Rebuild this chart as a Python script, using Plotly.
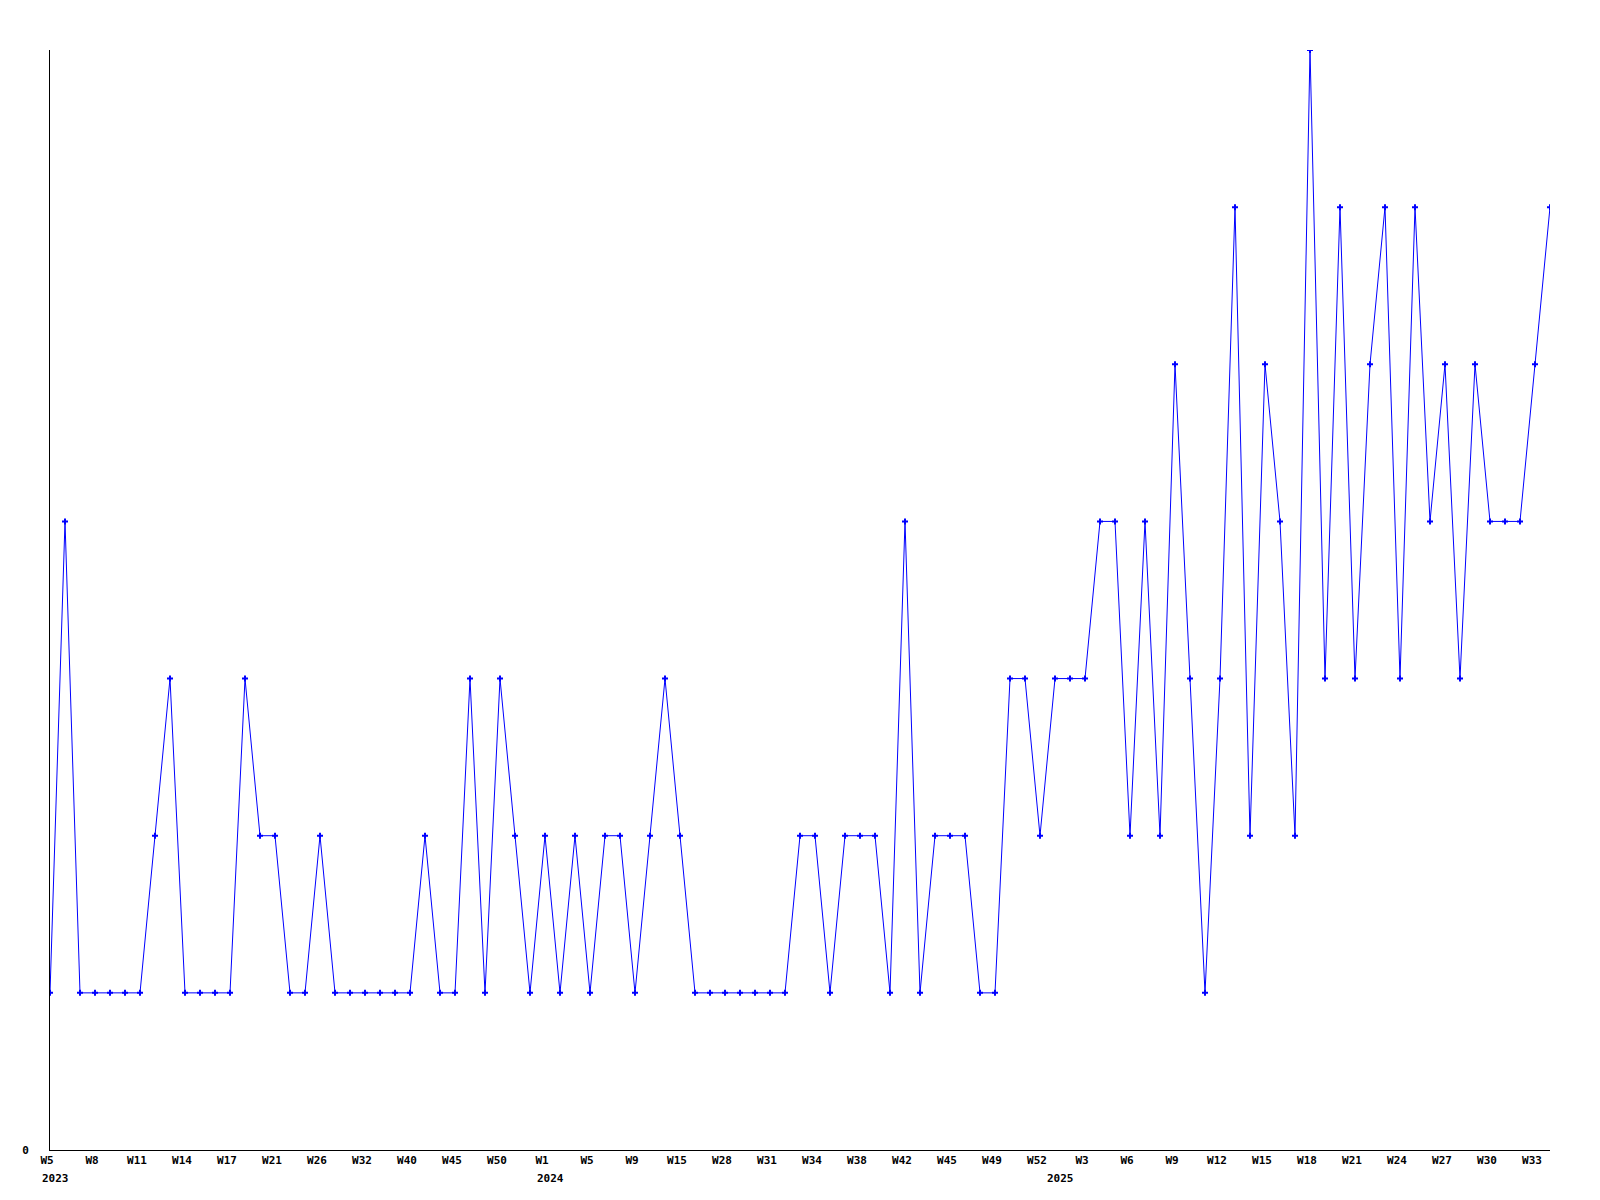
import plotly.graph_objects as go

weeks = [5, 6, 7, 8, 9, 10, 11, 12, 13, 14, 15, 16, 17, 18, 19, 21, 22, 24, 26, 28, 30, 32, 35, 38,
         40, 42, 44, 45, 47, 48, 50, 51, 52,
         1, 2, 3, 5, 6, 8, 9, 11, 13, 15, 17, 26, 28, 29, 30, 31, 32, 33, 34, 36, 37, 38, 40, 41,
         42, 43, 44, 45, 46, 47, 49, 50, 51, 52, 1, 2,
         3, 4, 5, 6, 7, 8, 9, 10, 11, 12, 13, 14, 15, 16, 17, 18, 19, 20, 21, 22, 23, 24, 25, 26,
         27, 28, 29, 30, 31, 32, 33, 34]
years = [2023]*33 + [2024]*34 + [2025]*34

values = [1, 4, 1, 1, 1, 1, 1, 2, 3, 1, 1, 1, 1, 3, 2, 2, 1, 1, 2, 1,
          1, 1, 1, 1, 1, 2, 1, 1, 3, 1, 3, 2, 1, 2, 1, 2, 1, 2, 2, 1,
          2, 3, 2, 1, 1, 1, 1, 1, 1, 1, 2, 2, 1, 2, 2, 2, 1, 4, 1, 2,
          2, 2, 1, 1, 3, 3, 2, 3, 3, 3, 4, 4, 2, 4, 2, 5, 3, 1, 3, 6,
          2, 5, 4, 2, 7, 3, 6, 3, 5, 6, 3, 6, 4, 5, 3, 5, 4, 4, 4, 5,
          6]

categories = [f"{y}-W{w:02d}" for y, w in zip(years, weeks)]

tick_idx = list(range(0, len(categories), 3))
tickvals = [categories[i] for i in tick_idx]
ticktext = [f"W{weeks[i]}" for i in tick_idx]
# year label placed at the first data point of each year
year_start_idx = [0] + [i for i in range(1, len(years)) if years[i] != years[i-1]]

fig = go.Figure()
fig.add_trace(go.Scatter(
    x=categories, y=values, mode="lines+markers",
    line=dict(color="#0000ff", width=1),
    marker=dict(symbol="cross", size=5, color="#0000ff"),
    showlegend=False, cliponaxis=True,
))

for i in year_start_idx:
    fig.add_annotation(
        x=categories[i], y=0, xref="x", yref="paper",
        text=str(years[i]), showarrow=False,
        xanchor="left", yanchor="top", xshift=-10, yshift=-20,
        font=dict(family="DejaVu Sans Mono", size=11, color="black", weight="bold"),
    )

fig.update_layout(
    width=1600, height=1200,
    margin=dict(l=42, r=58, t=42, b=58),
    paper_bgcolor="white", plot_bgcolor="white",
    font=dict(family="DejaVu Sans Mono", size=11, color="black"),
)
fig.update_xaxes(
    type="category", categoryorder="array", categoryarray=categories,
    range=[0, len(categories)-1],
    tickmode="array", tickvals=tickvals, ticktext=ticktext,
    showline=True, linecolor="black", linewidth=1,
    showgrid=False, zeroline=False, ticks="", ticklabelshift=-3,
    tickfont=dict(family="DejaVu Sans Mono", size=11, color="black", weight="bold"),
)
fig.update_yaxes(
    range=[0, 7], tickmode="array", tickvals=[0], ticktext=["0"],
    showline=True, linecolor="black", linewidth=1,
    showgrid=False, zeroline=False, ticks="", ticklabelstandoff=18,
    tickfont=dict(family="DejaVu Sans Mono", size=11, color="black", weight="bold"),
)

fig.write_html("out.html")
